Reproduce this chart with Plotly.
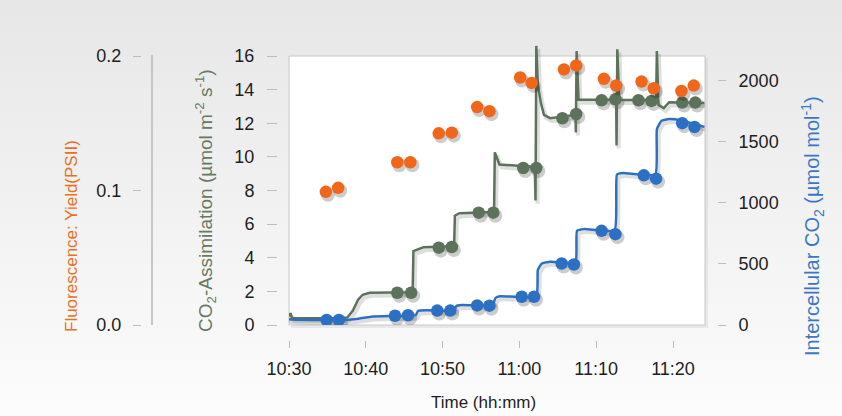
import pandas as pd
import plotly.graph_objects as go

DAY = "2020-01-01 "

# ---------------- data ----------------
# CO2 assimilation (green line, left-middle axis, umol m-2 s-1)
assim_line_time = ["10:30:00", "10:30:12", "10:30:24", "10:32:00", "10:34:00", "10:36:30", "10:37:36",
                   "10:38:18", "10:39:00", "10:39:36", "10:40:30", "10:43:00", "10:46:06",
                   "10:46:12", "10:47:30", "10:51:30", "10:51:36", "10:52:12", "10:56:42",
                   "10:56:48", "10:57:24", "11:02:00", "11:02:06", "11:02:12", "11:02:24",
                   "11:02:48", "11:03:12", "11:04:00", "11:07:18", "11:07:21", "11:07:27",
                   "11:07:42", "11:12:36", "11:12:39", "11:12:45", "11:13:00", "11:17:48",
                   "11:17:54", "11:18:06", "11:18:48", "11:19:30", "11:24:06"]
assim_line_value = [0.50, 0.70, 0.40, 0.40, 0.38, 0.40, 0.45,
                    0.85, 1.50, 1.80, 1.92, 1.95, 1.95,
                    4.40, 4.62, 4.68, 6.50, 6.65, 6.72,
                    10.27, 9.55, 9.40, 7.40, 16.6, 14.3,
                    13.2, 12.5, 12.3, 12.5, 11.45, 16.3,
                    13.4, 13.4, 10.67, 16.4, 13.4, 13.35,
                    16.3, 13.1, 12.9, 13.25, 13.2]
assim_dot_time = ["10:44:06", "10:45:54", "10:49:30", "10:51:12", "10:54:42", "10:56:36",
                  "11:00:30", "11:02:12", "11:05:36", "11:07:24", "11:10:42", "11:12:30",
                  "11:15:30", "11:17:12", "11:21:12", "11:22:54"]
assim_dot_value = [1.92, 1.92, 4.60, 4.64, 6.68, 6.68,
                   9.34, 9.34, 12.30, 12.55, 13.37, 13.43,
                   13.37, 13.33, 13.23, 13.23]

# Intercellular CO2 (blue line, right axis, umol mol-1)
ci_line_time = ["10:29:36", "10:30:00", "10:31:30", "10:35:00", "10:37:30", "10:39:00",
                "10:40:42", "10:44:00", "10:46:30", "10:46:48", "10:48:00", "10:51:30",
                "10:51:48", "10:52:30", "10:56:30", "10:56:54", "10:57:30", "11:02:12",
                "11:02:24", "11:02:54", "11:04:00", "11:07:18", "11:07:30", "11:08:30",
                "11:12:24", "11:12:42", "11:13:30", "11:17:42", "11:17:54", "11:18:30",
                "11:19:30", "11:21:00", "11:23:00", "11:24:06"]
ci_line_value = [55, 48, 42, 40, 42, 52,
                 68, 74, 80, 115, 120, 118,
                 155, 163, 165, 222, 235, 235,
                 450, 500, 517, 512, 770, 785,
                 775, 1230, 1243, 1230, 1600, 1670,
                 1685, 1675, 1640, 1620]
ci_dot_time = ["10:34:54", "10:36:30", "10:43:48", "10:45:30", "10:49:18", "10:51:00",
               "10:54:30", "10:56:06", "11:00:18", "11:01:54", "11:05:30", "11:07:06",
               "11:10:42", "11:12:30", "11:16:12", "11:17:48", "11:21:12", "11:22:48"]
ci_dot_value = [41, 41, 76, 80, 118, 118,
                160, 158, 231, 231, 503, 495,
                770, 743, 1224, 1197, 1651, 1619]

# Fluorescence yield (orange dots, far-left axis)
yield_time = ["10:34:48", "10:36:24", "10:44:06", "10:45:48", "10:49:30", "10:51:12",
              "10:54:30", "10:56:06", "11:00:06", "11:01:36", "11:05:48", "11:07:24",
              "11:11:00", "11:12:36", "11:15:54", "11:17:30", "11:21:06", "11:22:42"]
yield_value = [0.099, 0.102, 0.121, 0.121, 0.1425, 0.143,
               0.162, 0.159, 0.184, 0.180, 0.190, 0.193,
               0.183, 0.178, 0.181, 0.176, 0.174, 0.178]

x_tick_labels = ["10:30", "10:40", "10:50", "11:00", "11:10", "11:20"]
x_start, x_end = "10:30:00", "11:24:10"
assim_ticks = [0, 2, 4, 6, 8, 10, 12, 14, 16]
yield_ticks = [0.0, 0.1, 0.2]
ci_ticks = [0, 500, 1000, 1500, 2000]
assim_max, yield_max, ci_max = 16, 0.2, 2200

# ---------------- styling ----------------
GREEN = "#5d725a"
BLUE = "#2c70c4"
ORANGE = "#f0661a"
TICKC = "#bdbdbd"
LABELC = "#1e1e1e"
FONT = "Liberation Sans, Arial, sans-serif"

W, H = 842, 416
PA_L, PA_R, PA_T, PA_B = 141, 717, 44, 340       # paper plotting area (px)
BOX_L, BOX_R, BOX_T, BOX_B = 289, 705, 56, 325   # visible white plot box (px)


def px(xp):
    return (xp - PA_L) / (PA_R - PA_L)


def py(yp):
    return (PA_B - yp) / (PA_B - PA_T)


stretch = (BOX_B - PA_T) / (BOX_B - BOX_T)


def T(lst):
    return pd.to_datetime([DAY + s for s in lst])


# shadow offsets
sh_dt = pd.Timedelta(seconds=16)
per_px_assim = assim_max / (BOX_B - BOX_T)
per_px_yield = yield_max / (BOX_B - BOX_T)
per_px_ci = ci_max / (BOX_B - BOX_T)
SH = 3

fig = go.Figure()

SHC = "rgba(0,0,0,0.13)"
SHM = "rgba(0,0,0,0.20)"

# shadows
fig.add_trace(go.Scatter(x=T(assim_line_time) + sh_dt,
                         y=[v - SH * per_px_assim for v in assim_line_value],
                         mode="lines", line=dict(color=SHC, width=4),
                         yaxis="y", hoverinfo="skip", showlegend=False))
fig.add_trace(go.Scatter(x=T(assim_dot_time) + sh_dt,
                         y=[v - SH * per_px_assim for v in assim_dot_value],
                         mode="markers", marker=dict(color=SHM, size=14),
                         yaxis="y", hoverinfo="skip", showlegend=False))
# green line + dots
fig.add_trace(go.Scatter(x=T(assim_line_time), y=assim_line_value, mode="lines",
                         line=dict(color=GREEN, width=2.5, shape="linear"),
                         yaxis="y", showlegend=False))
fig.add_trace(go.Scatter(x=T(assim_dot_time), y=assim_dot_value, mode="markers",
                         marker=dict(color=GREEN, size=12.5),
                         yaxis="y", showlegend=False))

# orange yield dots
fig.add_trace(go.Scatter(x=T(yield_time) + sh_dt,
                         y=[v - SH * per_px_yield for v in yield_value],
                         mode="markers", marker=dict(color=SHM, size=14),
                         yaxis="y2", hoverinfo="skip", showlegend=False))
fig.add_trace(go.Scatter(x=T(yield_time), y=yield_value, mode="markers",
                         marker=dict(color=ORANGE, size=12.5),
                         yaxis="y2", showlegend=False))

# blue line + dots
fig.add_trace(go.Scatter(x=T(ci_line_time) + sh_dt,
                         y=[v - SH * per_px_ci for v in ci_line_value],
                         mode="lines", line=dict(color=SHC, width=4, shape="spline", smoothing=0.4),
                         yaxis="y3", hoverinfo="skip", showlegend=False))
fig.add_trace(go.Scatter(x=T(ci_dot_time) + sh_dt,
                         y=[v - SH * per_px_ci for v in ci_dot_value],
                         mode="markers", marker=dict(color=SHM, size=14),
                         yaxis="y3", hoverinfo="skip", showlegend=False))
fig.add_trace(go.Scatter(x=T(ci_line_time), y=ci_line_value, mode="lines",
                         line=dict(color=BLUE, width=2.5, shape="spline", smoothing=0.4),
                         yaxis="y3", showlegend=False))
fig.add_trace(go.Scatter(x=T(ci_dot_time), y=ci_dot_value, mode="markers",
                         marker=dict(color=BLUE, size=12.5),
                         yaxis="y3", showlegend=False))

# ---------------- background shapes ----------------
shapes = []
N = 52
c_top, c_bot = 231, 252
for i in range(N):
    y0 = i * H / N
    y1 = (i + 1) * H / N + 0.5
    c = round(c_top + (c_bot - c_top) * (i / (N - 1)))
    shapes.append(dict(type="rect", xref="paper", yref="paper", layer="below",
                       x0=px(0), x1=px(W), y0=py(y1), y1=py(y0),
                       fillcolor=f"rgb({c},{c},{c})", line=dict(width=0)))
# plot box shadow
shapes.append(dict(type="rect", xref="paper", yref="paper", layer="below",
                   x0=px(BOX_L + 2), x1=px(BOX_R + 3), y0=py(BOX_B + 3), y1=py(BOX_T + 2),
                   fillcolor="rgba(0,0,0,0.06)", line=dict(width=0)))
# white plot box
shapes.append(dict(type="rect", xref="paper", yref="paper", layer="below",
                   x0=px(BOX_L), x1=px(BOX_R), y0=py(BOX_B), y1=py(BOX_T),
                   fillcolor="white", line=dict(color="#c8c8c8", width=1)))
# fluorescence axis line
shapes.append(dict(type="line", xref="paper", yref="paper", layer="below",
                   x0=px(152), x1=px(152), y0=py(BOX_B), y1=py(BOX_T - 1),
                   line=dict(color="#b8b8b8", width=1.5)))

annotations = [
    dict(text="Fluorescence: Yield(PSII)", xref="paper", yref="paper",
         x=px(71), y=py(236), textangle=-90, showarrow=False,
         xanchor="center", yanchor="middle",
         font=dict(family=FONT, size=17, color="#e8711f")),
    dict(text="CO<sub>2</sub>-Assimilation (µmol m<sup>-2</sup> s<sup>-1</sup>)",
         xref="paper", yref="paper", x=px(205), y=py(201), textangle=-90, showarrow=False,
         xanchor="center", yanchor="middle",
         font=dict(family=FONT, size=19, color="#657a62")),
    dict(text="Intercellular CO<sub>2</sub> (µmol mol<sup>-1</sup>)",
         xref="paper", yref="paper", x=px(812), y=py(226), textangle=-90, showarrow=False,
         xanchor="center", yanchor="middle",
         font=dict(family=FONT, size=20, color="#3b78c4")),
    dict(text="Time (hh:mm)", xref="paper", yref="paper",
         x=px(483), y=py(403), showarrow=False, xanchor="center", yanchor="middle",
         font=dict(family=FONT, size=17, color=LABELC)),
]

tickfont = dict(family=FONT, size=18, color=LABELC)

fig.update_layout(
    width=W, height=H,
    margin=dict(l=PA_L, r=W - PA_R, t=PA_T, b=H - PA_B, pad=0),
    paper_bgcolor="white", plot_bgcolor="rgba(0,0,0,0)",
    showlegend=False,
    shapes=shapes, annotations=annotations,
    xaxis=dict(type="date", domain=[px(BOX_L), px(BOX_R)],
               range=[DAY + x_start, DAY + x_end],
               anchor="free", position=0,
               tickvals=[DAY + s for s in x_tick_labels], ticktext=x_tick_labels,
               ticks="outside", ticklen=7, tickwidth=1, tickcolor=TICKC,
               showline=False, showgrid=False, zeroline=False,
               tickfont=tickfont, ticklabelstandoff=5, automargin=False),
    yaxis=dict(domain=[py(BOX_B), 1], range=[0, assim_max * stretch],
               anchor="free", position=px(277), side="left",
               tickvals=assim_ticks, ticks="outside", ticklen=10, tickwidth=1,
               tickcolor=TICKC, showline=False, showgrid=False, zeroline=False,
               tickfont=tickfont, ticklabelstandoff=9, automargin=False),
    yaxis2=dict(overlaying="y", range=[0, yield_max * stretch],
                anchor="free", position=0, side="left",
                tickvals=yield_ticks, tickformat=".1f", ticks="outside", ticklen=8,
                tickwidth=1, tickcolor=TICKC, showline=False, showgrid=False,
                zeroline=False, tickfont=tickfont, ticklabelstandoff=8, automargin=False),
    yaxis3=dict(overlaying="y", range=[0, ci_max * stretch],
                anchor="free", position=1, side="right",
                tickvals=ci_ticks, ticks="outside", ticklen=8, tickwidth=1,
                tickcolor=TICKC, showline=False, showgrid=False, zeroline=False,
                tickfont=tickfont, ticklabelstandoff=9, automargin=False),
)

fig.write_html("out.html")
